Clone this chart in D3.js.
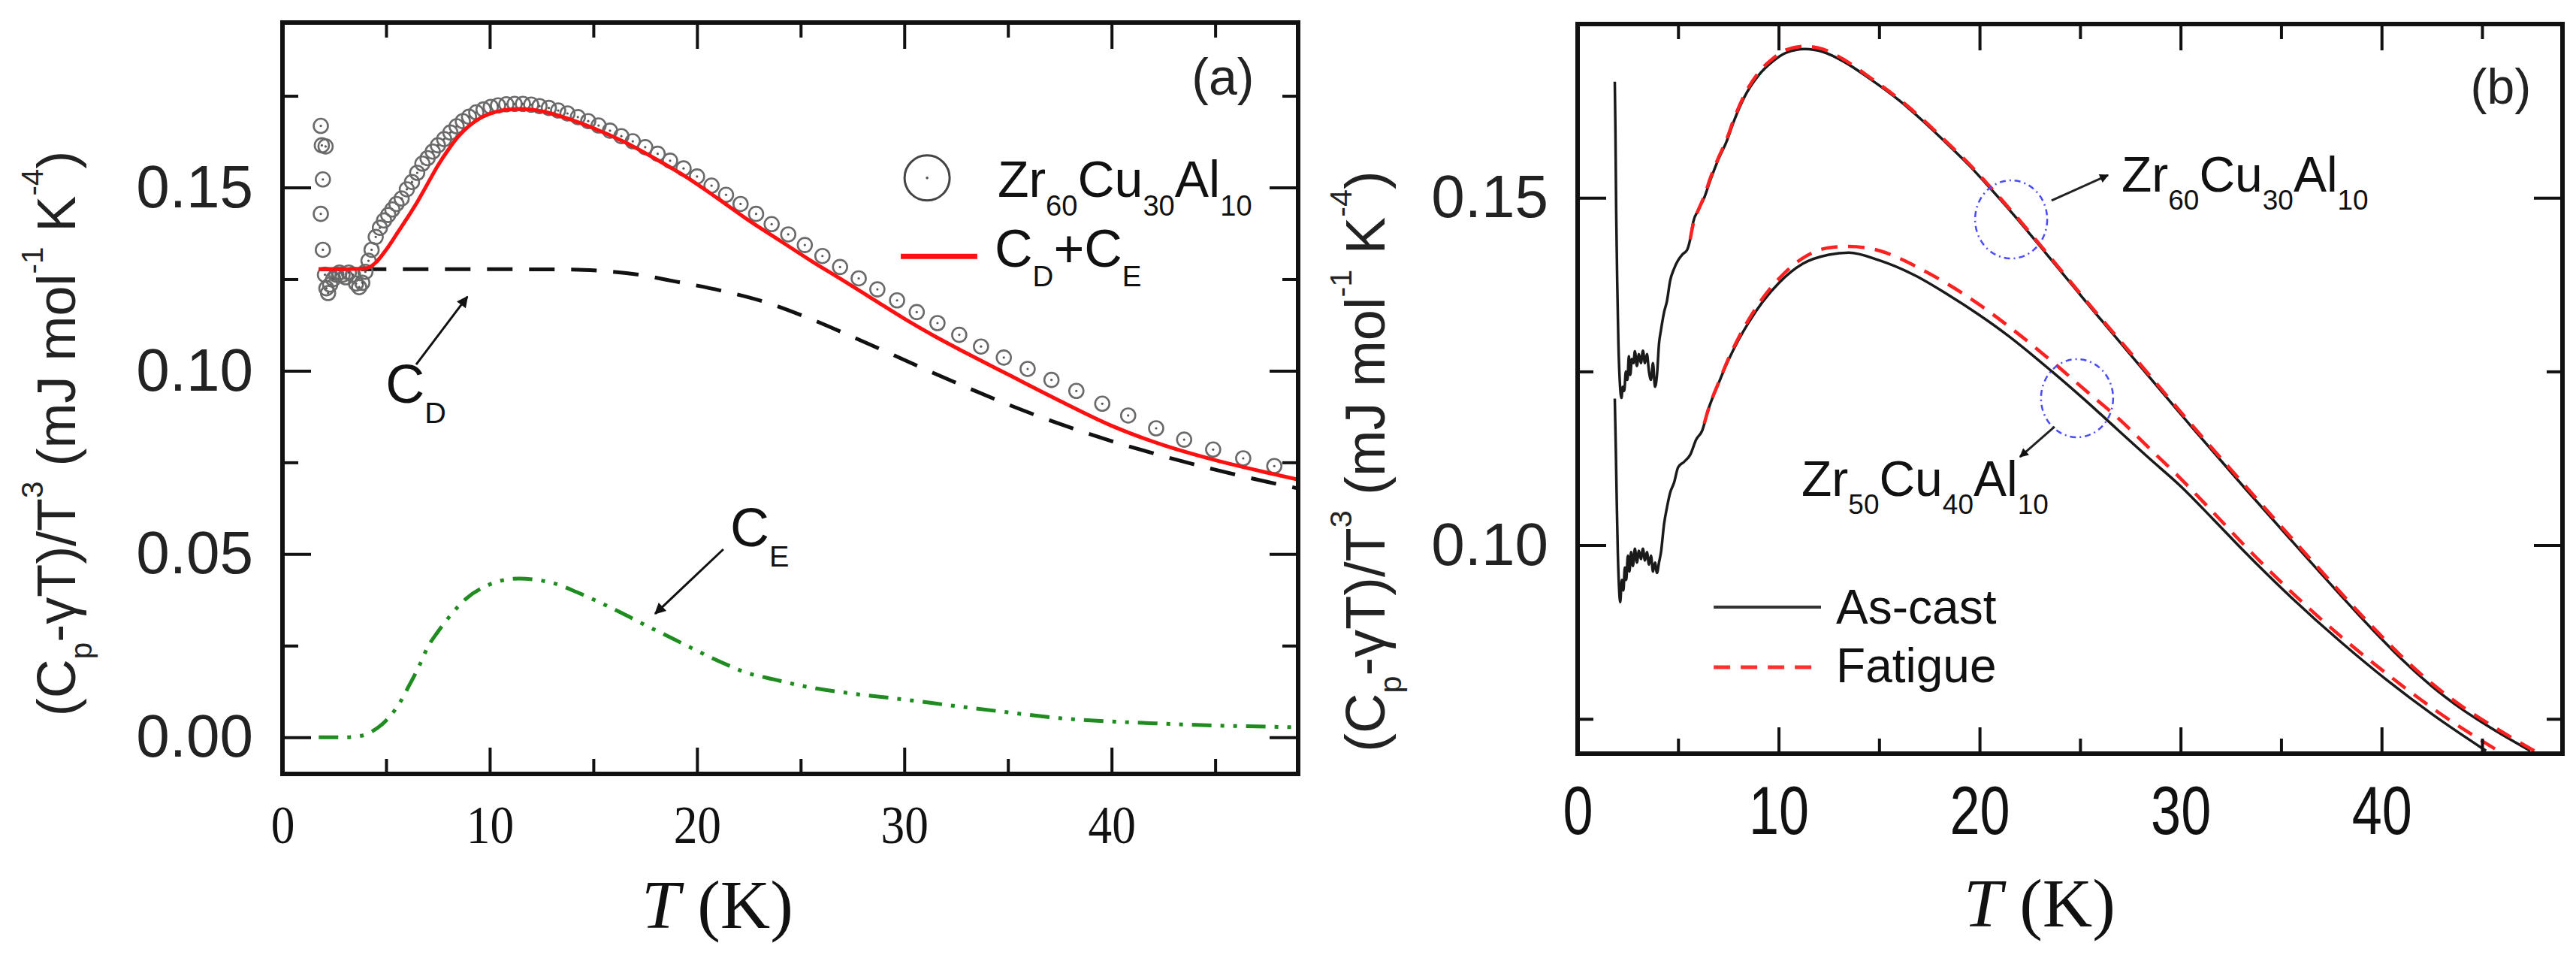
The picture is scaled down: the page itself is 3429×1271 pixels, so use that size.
<!DOCTYPE html>
<html><head><meta charset="utf-8">
<script src="https://cdn.jsdelivr.net/npm/d3@7"></script>
<style>body{margin:0;background:#fff}svg{display:block}</style>
</head><body>
<svg id="c" width="3429" height="1271"></svg>
<script>
// ---------------- DATA ----------------
// Panel (a): Zr60Cu30Al10 measured points
const circT = [1.85,1.90,2.08,1.95,1.85,1.95,2.05,2.12,2.2,2.3,2.45,2.6,2.75,2.9,3.05,3.2,3.4,3.55,3.7,3.85,4.0,4.15,4.3,4.5,4.7,4.9,5.1,5.3,5.5,5.75,6.0,6.25,6.5,6.75,7.0,7.25,7.5,7.8,8.1,8.4,8.7,9.0,9.35,9.7,10.05,10.4,10.8,11.2,11.6,12.0,12.4,12.85,13.3,13.75,14.25,14.75,15.25,15.8,16.35,16.9,17.5,18.1,18.7,19.35,20.0,20.7,21.4,22.1,22.85,23.6,24.4,25.2,26.05,26.9,27.8,28.7,29.65,30.6,31.6,32.65,33.7,34.8,35.95,37.1,38.3,39.55,40.8,42.15,43.5,44.9,46.35,47.85];
const circV = [0.1668,0.1615,0.1612,0.1522,0.1428,0.1330,0.1262,0.1225,0.1212,0.1235,0.1250,0.1262,0.1268,0.1262,0.1255,0.1268,0.1262,0.1238,0.1228,0.1240,0.1270,0.1300,0.1330,0.1365,0.1390,0.1410,0.1425,0.1440,0.1455,0.1470,0.1495,0.1515,0.1540,0.1565,0.1580,0.1598,0.1615,0.1632,0.1650,0.1667,0.1681,0.1693,0.1705,0.1713,0.1720,0.1724,0.1727,0.1728,0.1728,0.1726,0.1722,0.1717,0.1710,0.1702,0.1692,0.1681,0.1669,0.1655,0.1640,0.1626,0.1610,0.1592,0.1573,0.1552,0.1530,0.1505,0.1480,0.1455,0.1428,0.1400,0.1372,0.1343,0.1313,0.1283,0.1252,0.1222,0.1192,0.1160,0.1130,0.1098,0.1066,0.1036,0.1005,0.0975,0.0945,0.0910,0.0878,0.0843,0.0812,0.0785,0.0761,0.0740];
// Panel (a): fit C_D + C_E (red)
const sumT = [1.75,3.0,4.0,4.5,5.0,5.5,6.0,6.5,7.0,7.5,8.0,8.5,9.0,9.5,10.0,10.7,11.5,12.5,13.5,15.0,16.5,18.0,19.5,21.0,22.5,24.0,25.5,27.0,28.5,30.0,31.5,33.0,35.0,37.5,40.0,42.5,45.0,47.5,49.0];
const sumV = [0.1277,0.1277,0.1279,0.1295,0.1330,0.1372,0.1415,0.1460,0.1510,0.1560,0.1603,0.1640,0.1668,0.1688,0.1701,0.1711,0.1714,0.1708,0.1693,0.1662,0.1624,0.1578,0.1528,0.1470,0.1410,0.1355,0.1300,0.1248,0.1195,0.1142,0.1093,0.1048,0.0990,0.0918,0.0850,0.0797,0.0756,0.0722,0.0703];
// Panel (a): Debye term C_D (black dashed)
const cdT = [1.75,5,10,14,15.5,17.2,19.0,21.2,23.3,25.1,27.2,29.0,31.0,33.0,35.0,37.5,40.0,42.5,45.0,47.5,49.0];
const cdV = [0.1277,0.1277,0.1277,0.1276,0.1272,0.1262,0.1243,0.1218,0.1187,0.1150,0.1100,0.1055,0.1004,0.0955,0.0908,0.0855,0.0808,0.0767,0.0730,0.0697,0.0679];
// Panel (a): Einstein term C_E (green dash-dot-dot)
const ceT = [1.75,3.0,3.8,4.3,4.8,5.2,5.7,6.1,6.6,7.0,7.5,7.9,8.4,8.9,9.8,10.6,11.4,12.2,13.1,14.2,15.3,16.4,17.5,18.8,20.0,21.2,22.4,23.7,25.0,27.5,30.0,32.5,35.0,37.5,40.0,42.5,45.0,47.5,49.0];
const ceV = [0.0000,0.0000,0.0004,0.0015,0.0035,0.0058,0.0098,0.0140,0.0195,0.0245,0.0288,0.0318,0.0352,0.0380,0.0412,0.0428,0.0433,0.0430,0.0420,0.0396,0.0368,0.0338,0.0306,0.0270,0.0236,0.0204,0.0176,0.0158,0.0141,0.0119,0.0103,0.0085,0.0068,0.0052,0.0043,0.0037,0.0032,0.0029,0.0027];

// Panel (b): Zr60Cu30Al10 as-cast / fatigue
const up60T = [1.85,1.88,1.92,1.97,2.03,2.1,2.18,2.25,2.32,2.4,2.48,2.55,2.62,2.7,2.78,2.85,2.95,3.05,3.15,3.25,3.35,3.45,3.55,3.65,3.75,3.85,3.95,4.05,4.15,4.3,4.45,4.6,4.8,5.0,5.2,5.45,5.6,5.75,6.0,6.3,6.6,7.0,7.4,7.8,8.3,9.0,9.7,10.4,11.3,12.2,13.3,14.5,16.0,17.2,18.3,19.5,20.3,21.8,23.3,25.5,27.8,30.5,33.2,36.4,39.5,41.0,42.5,44.0,45.5,47.4];
const up60V = [0.1667,0.1600,0.1480,0.1380,0.1290,0.1235,0.1212,0.1228,0.1222,0.1250,0.1238,0.1272,0.1245,0.1268,0.1262,0.1279,0.1258,0.1275,0.1262,0.1280,0.1262,0.1275,0.1250,0.1238,0.1262,0.1228,0.1245,0.1290,0.1310,0.1335,0.1352,0.1380,0.1398,0.1410,0.1418,0.1425,0.1440,0.1465,0.1482,0.1500,0.1525,0.1555,0.1580,0.1612,0.1645,0.1676,0.1696,0.1709,0.1714,0.1710,0.1695,0.1672,0.1640,0.1610,0.1580,0.1546,0.1521,0.1472,0.1420,0.1343,0.1264,0.1172,0.1082,0.0978,0.0880,0.0836,0.0797,0.0764,0.0736,0.0704];
const fat60T = [5.6,5.75,6.0,6.3,6.6,7.0,7.4,7.8,8.3,9.0,9.7,10.4,11.3,12.2,13.3,14.5,16.0,17.2,18.3,19.5,20.3,21.8,23.3,25.5,27.8,30.5,33.2,36.4,39.5,41.0,42.5,44.0,45.5,47.6];
const fat60V = [0.1440,0.1462,0.1482,0.1502,0.1528,0.1557,0.1583,0.1615,0.1648,0.1680,0.1700,0.1713,0.1718,0.1714,0.1698,0.1674,0.1642,0.1612,0.1582,0.1548,0.1523,0.1474,0.1422,0.1345,0.1267,0.1175,0.1086,0.0982,0.0884,0.0840,0.0801,0.0768,0.0740,0.0704];
// Panel (b): Zr50Cu40Al10 as-cast / fatigue
const lo50T = [1.85,1.9,1.95,2.0,2.06,2.12,2.2,2.28,2.35,2.42,2.5,2.58,2.66,2.75,2.85,2.95,3.05,3.15,3.25,3.35,3.45,3.55,3.65,3.75,3.85,3.95,4.05,4.15,4.3,4.45,4.6,4.8,5.0,5.3,5.6,5.9,6.2,6.5,7.0,7.5,8.0,8.5,9.2,10.0,11.2,12.5,13.5,15.0,16.8,18.4,20.0,21.4,23.6,25.2,26.8,28.4,30.0,31.6,33.2,35.5,38.0,40.3,42.6,45.2];
const lo50V = [0.1211,0.1140,0.1060,0.0990,0.0940,0.0918,0.0950,0.0935,0.0968,0.0950,0.0985,0.0962,0.0990,0.0970,0.0995,0.0975,0.0992,0.0980,0.0995,0.0978,0.0990,0.0972,0.0985,0.0962,0.0975,0.0960,0.0975,0.0990,0.1030,0.1055,0.1075,0.1090,0.1112,0.1120,0.1130,0.1152,0.1165,0.1195,0.1232,0.1266,0.1295,0.1320,0.1350,0.1377,0.1405,0.1418,0.1421,0.1410,0.1388,0.1361,0.1331,0.1302,0.1250,0.1210,0.1168,0.1126,0.1085,0.1038,0.0990,0.0925,0.0860,0.0805,0.0755,0.0704];
const fat50T = [6.3,6.5,7.0,7.5,8.0,8.5,9.2,10.0,11.2,12.5,13.5,15.0,16.0,17.1,18.4,20.0,21.4,23.7,25.3,27.0,28.5,30.0,31.6,33.2,35.5,38.0,40.3,42.8,45.8];
const fat50V = [0.1175,0.1195,0.1233,0.1268,0.1298,0.1324,0.1355,0.1383,0.1413,0.1428,0.1430,0.1424,0.1413,0.1397,0.1376,0.1346,0.1316,0.1262,0.1222,0.1180,0.1138,0.1096,0.1048,0.0999,0.0933,0.0868,0.0814,0.0760,0.0704];

// ticks
const xMajor = [0,10,20,30,40];
const xMinor = [5,15,25,35,45];
const yMajorA = [0,0.05,0.10,0.15];
const yMinorA = [0.025,0.075,0.125,0.175];
const yMajorB = [0.10,0.15];
const yMinorB = [0.075,0.125];

// ---------------- DRAWING ----------------
const SANS = '"Liberation Sans", Arial, sans-serif';
const SERIF = '"Liberation Serif", "Times New Roman", serif';
const INK = '#111';
const svg = d3.select('#c');
const zip = (a,b) => a.map((t,i)=>[t,b[i]]);

const defs = svg.append('defs');
function marker(id, w, h){
  defs.append('marker').attr('id',id).attr('viewBox','0 0 10 10').attr('refX',9).attr('refY',5)
    .attr('markerWidth',w).attr('markerHeight',h).attr('markerUnits','userSpaceOnUse').attr('orient','auto')
    .append('path').attr('d','M0,0L10,5L0,10z').attr('fill',INK);
}
marker('arrA',26,15); marker('arrB',20,12);

function rich(g, x, y, segs, size, opt={}){
  const t = g.append('text').attr('x',x).attr('y',y).attr('font-size',size)
    .attr('font-family', opt.family||SANS).attr('fill', opt.fill||INK);
  if (opt.anchor) t.attr('text-anchor',opt.anchor);
  if (opt.transform) t.attr('transform',opt.transform);
  let cur = 0;
  segs.forEach(([s,k])=>{
    const ts = t.append('tspan').text(s);
    let off=0, fs=size;
    if (k==='sub'){ off=size*(opt.subOff||0.37); fs=size*(opt.subScale||0.56); }
    else if (k==='sup'){ off=-size*(opt.supOff||0.55); fs=size*(opt.supScale||0.56); }
    if (k==='i') ts.attr('font-style','italic');
    ts.attr('font-size',fs).attr('dy',off-cur);
    cur=off;
  });
  return t;
}

function frame(g, x, y, o){
  const [x0,x1]=x.range(), [y0,y1]=y.range();
  const ax=(gen,tx,ty)=>g.append('g').attr('transform',`translate(${tx},${ty})`).call(gen);
  const bot = ax(d3.axisBottom(x).tickValues(xMajor).tickSize(-35).tickPadding(o.xPad).tickFormat(d3.format('d')),0,y0);
  ax(d3.axisBottom(x).tickValues(xMinor).tickSize(-20).tickFormat(''),0,y0);
  ax(d3.axisTop(x).tickValues(xMajor).tickSize(-35).tickFormat(''),0,y1);
  ax(d3.axisTop(x).tickValues(xMinor).tickSize(-20).tickFormat(''),0,y1);
  const left = ax(d3.axisLeft(y).tickValues(o.yMajor).tickSize(-38).tickPadding(39).tickFormat(d3.format('.2f')),x0,0);
  ax(d3.axisLeft(y).tickValues(o.yMinor).tickSize(-21).tickFormat(''),x0,0);
  ax(d3.axisRight(y).tickValues(o.yMajor).tickSize(-38).tickFormat(''),x1,0);
  ax(d3.axisRight(y).tickValues(o.yMinor).tickSize(-21).tickFormat(''),x1,0);
  g.selectAll('.domain').remove();
  g.selectAll('.tick line').attr('stroke',INK).attr('stroke-width',4);
  bot.selectAll('text').attr('font-family',o.xFamily).attr('font-size',o.xSize).attr('fill',INK)
     .attr('transform',`scale(${o.xScale},1)`);
  left.selectAll('text').attr('font-family',SANS).attr('font-size',80).attr('fill','#222');
  g.append('rect').attr('x',x0).attr('y',y1).attr('width',x1-x0).attr('height',y0-y1)
    .attr('fill','none').attr('stroke',INK).attr('stroke-width',6);
}

function clip(id, x, y){
  const [x0,x1]=x.range(), [y0,y1]=y.range();
  defs.append('clipPath').attr('id',id).append('rect').attr('x',x0).attr('y',y1).attr('width',x1-x0).attr('height',y0-y1);
}

// ===== Panel (a) =====
const xa = d3.scaleLinear().domain([0,49]).range([376,1728]);
const ya = d3.scaleLinear().domain([-0.01,0.195]).range([1030,30]);
const ga = svg.append('g');
clip('clipA',xa,ya);
const la = d3.line().x(d=>xa(d[0])).y(d=>ya(d[1])).curve(d3.curveMonotoneX);
const pa = ga.append('g').attr('clip-path','url(#clipA)');

pa.append('path').datum(zip(ceT,ceV)).attr('d',la).attr('fill','none')
  .attr('stroke','#1e8c1e').attr('stroke-width',5).attr('stroke-dasharray','26,12,5,12,5,12');
pa.append('path').datum(zip(cdT,cdV)).attr('d',la).attr('fill','none')
  .attr('stroke','#111').attr('stroke-width',5).attr('stroke-dasharray','34,22');
const pts = pa.append('g');
zip(circT,circV).forEach(d=>{
  pts.append('circle').attr('cx',xa(d[0])).attr('cy',ya(d[1])).attr('r',9.5)
    .attr('fill','none').attr('stroke','#6a6a6a').attr('stroke-width',2.6);
  pts.append('circle').attr('cx',xa(d[0])).attr('cy',ya(d[1])).attr('r',1.6).attr('fill','#555');
});
pa.append('path').datum(zip(sumT,sumV)).attr('d',la).attr('fill','none')
  .attr('stroke','#ff1010').attr('stroke-width',5);

frame(ga,xa,ya,{yMajor:yMajorA,yMinor:yMinorA,xPad:41,xFamily:SERIF,xSize:72,xScale:0.88});

// legend (a)
ga.append('circle').attr('cx',xa(31.1)).attr('cy',ya(0.1526)).attr('r',30)
  .attr('fill','none').attr('stroke','#444').attr('stroke-width',3);
ga.append('circle').attr('cx',xa(31.1)).attr('cy',ya(0.1526)).attr('r',1.8).attr('fill','#555');
rich(ga, xa(34.5), ya(0.1474), [['Zr','n'],['60','sub'],['Cu','n'],['30','sub'],['Al','n'],['10','sub']], 68);
ga.append('line').attr('x1',xa(29.83)).attr('x2',xa(33.52)).attr('y1',ya(0.1312)).attr('y2',ya(0.1312))
  .attr('stroke','#ff1010').attr('stroke-width',7);
rich(ga, xa(34.36), ya(0.1284), [['C','n'],['D','sub'],['+C','n'],['E','sub']], 70, {subScale:0.55});
ga.append('text').attr('x',xa(45.37)).attr('y',ya(0.1753)).attr('text-anchor','middle')
  .attr('font-family',SANS).attr('font-size',68).attr('fill','#222').text('(a)');

// annotations (a)
rich(ga, xa(4.97), ya(0.0913), [['C','n'],['D','sub']], 72, {subScale:0.55, subOff:0.38});
ga.append('line').attr('x1',xa(6.45)).attr('y1',ya(0.1017)).attr('x2',xa(8.92)).attr('y2',ya(0.1202))
  .attr('stroke',INK).attr('stroke-width',3).attr('marker-end','url(#arrA)');
rich(ga, xa(21.6), ya(0.0521), [['C','n'],['E','sub']], 72, {subScale:0.55, subOff:0.38});
ga.append('line').attr('x1',xa(21.27)).attr('y1',ya(0.0513)).attr('x2',xa(17.98)).attr('y2',ya(0.0337))
  .attr('stroke',INK).attr('stroke-width',3).attr('marker-end','url(#arrA)');

// axis titles (a)
rich(ga, 955, 1235, [['T','i'],[' (K)','n']], 92, {family:SERIF, anchor:'middle'});
rich(ga, 0, 0, [['(C','n'],['p','sub'],['-γT)/T','n'],['3','sup'],[' (mJ mol','n'],['-1','sup'],[' K','n'],['-4','sup'],[')','n']],
  72, {anchor:'middle', transform:'translate(100,577) rotate(-90)', subOff:0.3, supOff:0.6, fill:'#222'});

// ===== Panel (b) =====
const xb = d3.scaleLinear().domain([0,49]).range([2100,3411]);
const yb = d3.scaleLinear().domain([0.07,0.175]).range([1003,32]);
const gb = svg.append('g');
clip('clipB',xb,yb);
const lb = d3.line().x(d=>xb(d[0])).y(d=>yb(d[1])).curve(d3.curveMonotoneX);
const pb = gb.append('g').attr('clip-path','url(#clipB)');
[[up60T,up60V],[lo50T,lo50V]].forEach(([t,v])=>{
  pb.append('path').datum(zip(t,v)).attr('d',lb).attr('fill','none')
    .attr('stroke','#1a1a1a').attr('stroke-width',3.5);
});
[[fat60T,fat60V],[fat50T,fat50V]].forEach(([t,v])=>{
  pb.append('path').datum(zip(t,v)).attr('d',lb).attr('fill','none')
    .attr('stroke','#ff2020').attr('stroke-width',4.5).attr('stroke-dasharray','22,14');
});
frame(gb,xb,yb,{yMajor:yMajorB,yMinor:yMinorB,xPad:43,xFamily:SANS,xSize:90,xScale:0.8});

// ellipses + labels (b)
[[21.57,0.14688],[24.85,0.12115]].forEach(([t,v])=>{
  gb.append('ellipse').attr('cx',xb(t)).attr('cy',yb(v)).attr('rx',48).attr('ry',52)
    .attr('fill','none').attr('stroke','#4a4aff').attr('stroke-width',2.5).attr('stroke-dasharray','8,5,2,5');
});
gb.append('line').attr('x1',xb(23.58)).attr('y1',yb(0.14959)).attr('x2',xb(26.39)).attr('y2',yb(0.15326))
  .attr('stroke','#222').attr('stroke-width',3).attr('marker-end','url(#arrB)');
gb.append('line').attr('x1',xb(23.73)).attr('y1',yb(0.11704)).attr('x2',xb(22.01)).attr('y2',yb(0.11271))
  .attr('stroke','#222').attr('stroke-width',3).attr('marker-end','url(#arrB)');
rich(gb, xb(27.06), yb(0.15089), [['Zr','n'],['60','sub'],['Cu','n'],['30','sub'],['Al','n'],['10','sub']], 66);
rich(gb, xb(11.14), yb(0.10709), [['Zr','n'],['50','sub'],['Cu','n'],['40','sub'],['Al','n'],['10','sub']], 66);
gb.append('text').attr('x',xb(45.93)).attr('y',yb(0.16354)).attr('text-anchor','middle')
  .attr('font-family',SANS).attr('font-size',66).attr('fill','#222').text('(b)');

// legend (b)
gb.append('line').attr('x1',xb(6.77)).attr('x2',xb(12.11)).attr('y1',yb(0.09109)).attr('y2',yb(0.09109))
  .attr('stroke','#333').attr('stroke-width',4);
gb.append('line').attr('x1',xb(6.77)).attr('x2',xb(12.11)).attr('y1',yb(0.08244)).attr('y2',yb(0.08244))
  .attr('stroke','#ff3030').attr('stroke-width',5).attr('stroke-dasharray','22,14');
gb.append('text').attr('x',xb(12.86)).attr('y',yb(0.08871)).attr('font-family',SANS).attr('font-size',64).attr('fill',INK).text('As-cast');
gb.append('text').attr('x',xb(12.86)).attr('y',yb(0.08027)).attr('font-family',SANS).attr('font-size',64).attr('fill',INK).text('Fatigue');

// axis titles (b)
rich(gb, 2715, 1233, [['T','i'],[' (K)','n']], 92, {family:SERIF, anchor:'middle'});
rich(gb, 0, 0, [['(C','n'],['p','sub'],['-γT)/T','n'],['3','sup'],[' (mJ mol','n'],['-1','sup'],[' K','n'],['-4','sup'],[')','n']],
  74, {anchor:'middle', transform:'translate(1843,614) rotate(-90)', subOff:0.3, supOff:0.6, fill:'#222'});
</script>
</body></html>
